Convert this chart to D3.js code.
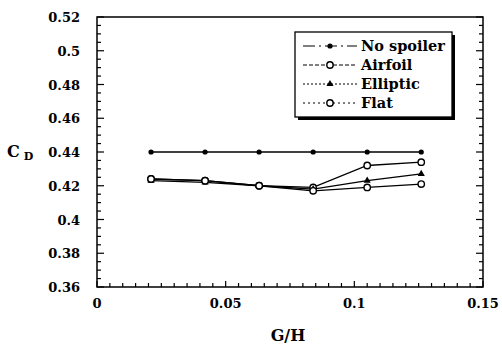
<!DOCTYPE html>
<html>
<head>
<meta charset="utf-8">
<script src="https://cdn.jsdelivr.net/npm/d3@7"></script>
<style>
  body { margin: 0; background: #fff; }
  svg text { font-family: "DejaVu Serif", "Liberation Serif", serif; font-weight: bold; fill: #000; }
</style>
</head>
<body>
<svg id="chart" width="502" height="349"></svg>
<script>
// C_D versus G/H for each spoiler shape

var gapRatio = [0.021, 0.042, 0.063, 0.084, 0.105, 0.126];

var noSpoiler = [0.440, 0.440, 0.440, 0.440, 0.440, 0.440];
var airfoil   = [0.424, 0.423, 0.420, 0.419, 0.432, 0.434];
var elliptic  = [0.423, 0.422, 0.420, 0.418, 0.423, 0.427];
var flat      = [0.424, 0.423, 0.420, 0.417, 0.419, 0.421];

var seriesNames = ["No spoiler", "Airfoil", "Elliptic", "Flat"];

var xTicks = [0, 0.05, 0.1, 0.15];
var yTicks = [0.36, 0.38, 0.4, 0.42, 0.44, 0.46, 0.48, 0.5, 0.52];

var series = [
  { name: seriesNames[0], values: noSpoiler, symbol: "dot",      dash: "12,4,2,4" },
  { name: seriesNames[1], values: airfoil,   symbol: "circle",   dash: "4,2" },
  { name: seriesNames[2], values: elliptic,  symbol: "triangle", dash: "2,2" },
  { name: seriesNames[3], values: flat,      symbol: "circle",   dash: "2,3" }
];

(function () {
  var svg = d3.select("#chart");
  var pl = 97, pr = 483, pt = 17, pb = 287;

  var x = d3.scaleLinear().domain([0, 0.15]).range([pl, pr]);
  var y = d3.scaleLinear().domain([0.36, 0.52]).range([pb, pt]);

  // frame
  svg.append("rect")
    .attr("x", pl).attr("y", pt)
    .attr("width", pr - pl).attr("height", pb - pt)
    .attr("fill", "none").attr("stroke", "#000").attr("stroke-width", 1.5);

  var fmt = function (d) { return String(+d.toFixed(3)); };

  // minor ticks, pointing inward
  var xMinor = d3.range(0, 0.1501, 0.005);
  var yMinor = d3.range(0.36, 0.5201, 0.005);

  svg.append("g").selectAll("line").data(xMinor).join("line")
    .attr("x1", function (d) { return x(d); }).attr("x2", function (d) { return x(d); })
    .attr("y1", pb).attr("y2", function (d, i) { return pb - (i % 10 === 0 ? 6 : 4); })
    .attr("stroke", "#000").attr("stroke-width", 1.2);

  svg.append("g").selectAll("line").data(yMinor).join("line")
    .attr("y1", function (d) { return y(d); }).attr("y2", function (d) { return y(d); })
    .attr("x1", pl).attr("x2", function (d, i) { return pl + (i % 4 === 0 ? 7 : 4); })
    .attr("stroke", "#000").attr("stroke-width", 1.2);

  svg.append("g").selectAll("line").data(yMinor).join("line")
    .attr("y1", function (d) { return y(d); }).attr("y2", function (d) { return y(d); })
    .attr("x1", pr).attr("x2", function (d, i) { return pr - (i % 4 === 0 ? 7 : 4); })
    .attr("stroke", "#000").attr("stroke-width", 1.2);

  // tick labels
  svg.append("g").selectAll("text").data(yTicks).join("text")
    .attr("x", 80).attr("y", function (d) { return y(d) + 5; })
    .attr("text-anchor", "end").attr("font-size", 13)
    .text(fmt);

  svg.append("g").selectAll("text").data(xTicks).join("text")
    .attr("x", function (d) { return x(d); }).attr("y", 308)
    .attr("text-anchor", "middle").attr("font-size", 13)
    .text(fmt);

  // axis titles
  svg.append("text").attr("x", 288).attr("y", 341)
    .attr("text-anchor", "middle").attr("font-size", 16).text("G/H");

  var cd = svg.append("text").attr("x", 7).attr("y", 157).attr("font-size", 16);
  cd.append("tspan").text("C");
  cd.append("tspan").attr("dx", 4).attr("dy", 3).attr("font-size", 11).text("D");

  // symbols
  var drawSymbol = function (g, kind, cx, cy) {
    if (kind === "dot") {
      g.append("circle").attr("cx", cx).attr("cy", cy).attr("r", 2.6).attr("fill", "#000");
    } else if (kind === "circle") {
      g.append("circle").attr("cx", cx).attr("cy", cy).attr("r", 3.2)
        .attr("fill", "#fff").attr("stroke", "#000").attr("stroke-width", 1.4);
    } else {
      g.append("path").attr("d", d3.symbol(d3.symbolTriangle, 22)())
        .attr("transform", "translate(" + cx + "," + cy + ")").attr("fill", "#000");
    }
  };

  var line = d3.line()
    .x(function (d, i) { return x(gapRatio[i]); })
    .y(function (d) { return y(d); });

  series.forEach(function (s) {
    var g = svg.append("g");
    g.append("path").datum(s.values).attr("d", line)
      .attr("fill", "none").attr("stroke", "#000").attr("stroke-width", 1.3);
    s.values.forEach(function (v, i) {
      drawSymbol(g, s.symbol, x(gapRatio[i]), y(v));
    });
  });

  // legend with drop shadow
  var lg = svg.append("g");
  lg.append("rect").attr("x", 298).attr("y", 35).attr("width", 157).attr("height", 85).attr("fill", "#000");
  lg.append("rect").attr("x", 295).attr("y", 32).attr("width", 157).attr("height", 85)
    .attr("fill", "#fff").attr("stroke", "#000").attr("stroke-width", 1.3);

  series.forEach(function (s, i) {
    var ly = 46 + i * 19;
    lg.append("line").attr("x1", 303).attr("x2", 357).attr("y1", ly).attr("y2", ly)
      .attr("stroke", "#000").attr("stroke-width", 1.2).attr("stroke-dasharray", s.dash);
    drawSymbol(lg, s.symbol, 330, ly);
    lg.append("text").attr("x", 361).attr("y", ly + 5).attr("font-size", 14.5).text(s.name);
  });
})();
</script>
</body>
</html>
